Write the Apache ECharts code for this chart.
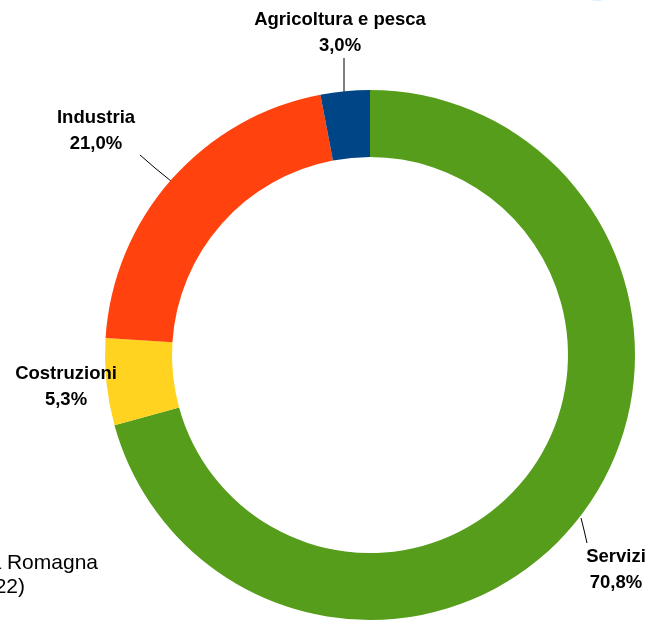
<!DOCTYPE html>
<html>
<head>
<meta charset="utf-8">
<script src="https://cdn.jsdelivr.net/npm/echarts@6/dist/echarts.min.js"></script>
<style>
  html, body { margin: 0; padding: 0; background: #fff; }
  #chart { width: 649px; height: 620px; }
</style>
</head>
<body>
<div id="chart"></div>
<script>
// settori, in senso orario partendo dall'alto
const sectors = ['Servizi', 'Costruzioni', 'Industria', 'Agricoltura e pesca']
const shares = [70.8, 5.3, 21.0, 3.0]
const colors = ['#579d1c', '#ffd320', '#ff420e', '#004586']

// posizione delle etichette (centro del blocco) e delle linee guida
const labelSpots = [
  { x: 616, y: 570, line: [[581, 518], [584, 530], [587, 543]] },
  { x: 66, y: 387, line: null },
  { x: 96, y: 131, line: [[171, 181], [155, 168], [140, 155]] },
  { x: 340, y: 33, line: [[344, 92], [344, 75], [344, 58]] }
]

const fmt = v => v.toFixed(1).replace('.', ',') + '%'

let myChart = echarts.init(document.getElementById('chart'))
myChart.setOption({
  animation: false,
  color: colors,
  graphic: [
    {
      type: 'text',
      style: {
        x: 98, y: 563,
        text: 'Emilia Romagna',
        align: 'right',
        verticalAlign: 'middle',
        font: '21px "Liberation Sans", Arial, sans-serif',
        fill: '#000'
      }
    },
    {
      type: 'text',
      style: {
        x: 25, y: 587,
        text: '(2022)',
        align: 'right',
        verticalAlign: 'middle',
        font: '21px "Liberation Sans", Arial, sans-serif',
        fill: '#000'
      }
    },
    {
      type: 'ellipse',
      shape: { cx: 597, cy: -4, rx: 10, ry: 5 },
      style: { fill: '#dcefff' }
    }
  ],
  series: [
    {
      type: 'pie',
      center: [370, 355],
      radius: [198, 265],
      startAngle: 90,
      clockwise: true,
      avoidLabelOverlap: false,
      data: sectors.map((name, i) => ({
        name: name,
        value: shares[i],
        labelLine: { show: labelSpots[i].line !== null }
      })),
      label: {
        show: true,
        position: 'outside',
        formatter: p => p.name + '\n' + fmt(p.value),
        fontFamily: '"Liberation Sans", Arial, sans-serif',
        fontWeight: 'bold',
        fontSize: 18.5,
        lineHeight: 26,
        color: '#000',
        align: 'center'
      },
      labelLine: {
        show: true,
        lineStyle: { color: '#000', width: 1 }
      },
      labelLayout: params => {
        const spot = labelSpots[params.dataIndex]
        const out = { x: spot.x, y: spot.y, align: 'center', verticalAlign: 'middle' }
        if (spot.line) out.labelLinePoints = spot.line
        return out
      },
      emphasis: { disabled: true }
    }
  ]
})
</script>
</body>
</html>
